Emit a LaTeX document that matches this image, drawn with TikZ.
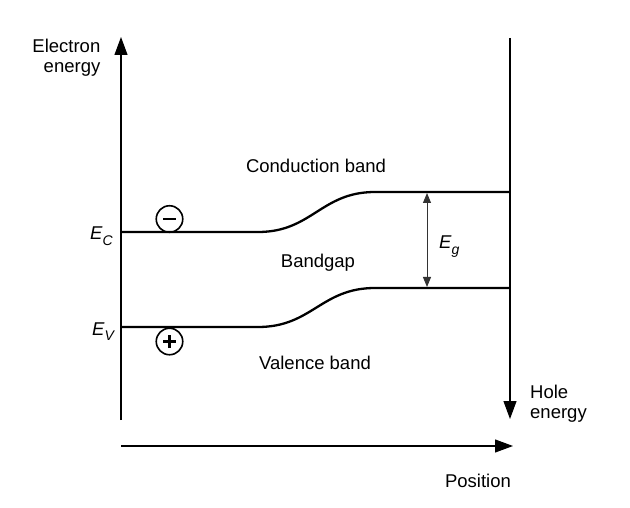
\documentclass[tikz,border=0pt]{standalone}
\usepackage{fontspec}
\setmainfont{Liberation Sans}
\usetikzlibrary{arrows.meta}
\newcommand{\sym}[2]{\textit{#1}\raisebox{-0.3em}{\fontsize{14}{14}\selectfont\textit{#2}}}
\begin{document}
\begin{tikzpicture}[x=1pt,y=-1pt,
  lbl/.style={font=\fontsize{18.5}{20}\selectfont, inner sep=0pt},
  axis/.style={line width=1.1pt},
  band/.style={line width=2.3pt},
  bigtip/.style={-{Triangle[length=18pt,width=13pt]}},
  carrier/.style={circle, draw, line width=1.6pt, minimum size=26.5pt, inner sep=0pt},
  sign/.style={line width=2.6pt}]
\useasboundingbox (0,0) rectangle (630,508);
% axes
\coordinate (lb) at (121,420);
\coordinate (lt) at (121,37);
\coordinate (rt) at (510,38);
\coordinate (rb) at (510,419);
\coordinate (pl) at (121,446);
\coordinate (pr) at (513,446);
\draw[axis,bigtip] (lb) -- (lt);
\draw[axis,bigtip] (rt) -- (rb);
\draw[axis,bigtip] (pl) -- (pr);
% bands
\coordinate (c0) at (121,232);
\coordinate (c1) at (258,232);
\coordinate (c2) at (375,192);
\coordinate (c3) at (510,192);
\coordinate (v0) at (121,327);
\coordinate (v1) at (258,327);
\coordinate (v2) at (375,288);
\coordinate (v3) at (510,288);
\draw[band] (c0) -- (c1) .. controls (312,232) and (321,192) .. (c2) -- (c3);
\draw[band] (v0) -- (v1) .. controls (312,327) and (321,288) .. (v2) -- (v3);
% Eg arrow
\coordinate (gt) at (427,193);
\coordinate (gb) at (427,287);
\draw[line width=1pt,draw=black!80,{Triangle[length=10pt,width=8pt]}-{Triangle[length=10pt,width=8pt]}] (gt) -- (gb);
\node[lbl,anchor=base west] (eg) at (439,249) {\sym{E}{g}};
% labels
\node[lbl,align=right,anchor=north east] (ee) at (100.5,39) {Electron\\energy};
\node[lbl,align=left,anchor=north west] (he) at (530,385) {Hole\\energy};
\node[lbl,anchor=base] (pos) at (478,487) {Position};
\node[lbl,anchor=base] (cb) at (316,173) {Conduction band};
\node[lbl,anchor=base] (bg) at (318,268) {Bandgap};
\node[lbl,anchor=base] (vb) at (315,369) {Valence band};
\node[lbl,anchor=base west] (ec) at (90,240) {\sym{E}{C}};
\node[lbl,anchor=base west] (ev) at (92,335) {\sym{E}{V}};
% carriers
\node[carrier] (minus) at (169.5,219) {};
\draw[sign] ([xshift=-6.5pt]minus.center) -- ([xshift=6.5pt]minus.center);
\node[carrier] (plus) at (169.5,341.5) {};
\draw[sign] ([xshift=-6.5pt]plus.center) -- ([xshift=6.5pt]plus.center);
\draw[sign] ([yshift=-6.5pt]plus.center) -- ([yshift=6.5pt]plus.center);
\end{tikzpicture}
\end{document}
